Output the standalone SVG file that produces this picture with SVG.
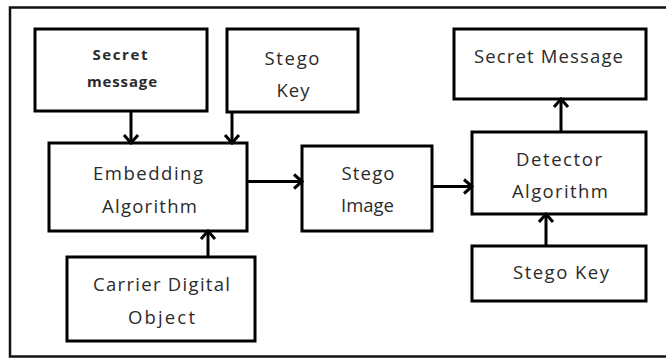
<svg xmlns="http://www.w3.org/2000/svg" width="666" height="358" viewBox="0 0 666 358">
  <defs>
    <style>
      .box { fill: #ffffff; stroke: #000000; stroke-width: 3; }
      .frame { fill: #ffffff; stroke: #111111; stroke-width: 2.5; }
      .lbl { font-family: "Open Sans", "Liberation Sans", Arial, sans-serif; font-size: 18.5px; fill: #2b2b2b; text-anchor: middle; }
      .bold { font-weight: bold; font-size: 15px; }
      .edge { stroke: #000000; stroke-width: 3; fill: none; marker-end: url(#chev); }
    </style>
    <marker id="chev" markerUnits="userSpaceOnUse" viewBox="0 0 12 18" markerWidth="12" markerHeight="18" refX="10" refY="9" orient="auto">
      <path d="M2,2 L10,9 L2,16" fill="none" stroke="#000000" stroke-width="3" stroke-linejoin="miter"/>
    </marker>
  </defs>

  <!-- outer frame, right side runs past the canvas -->
  <rect class="frame" x="10" y="7.5" width="680" height="349"/>

  <g id="secret-message-in">
    <rect class="box" x="35" y="29" width="172" height="82"/>
    <text class="lbl bold" x="120" y="60" textLength="55" lengthAdjust="spacing">Secret</text>
    <text class="lbl bold" x="122" y="87" textLength="70" lengthAdjust="spacing">message</text>
  </g>

  <g id="stego-key-in">
    <rect class="box" x="227" y="29" width="131" height="83"/>
    <text class="lbl" x="292" y="65" textLength="55" lengthAdjust="spacing">Stego</text>
    <text class="lbl" x="293" y="97" textLength="33" lengthAdjust="spacing">Key</text>
  </g>

  <g id="embedding">
    <rect class="box" x="49" y="143" width="198" height="88"/>
    <text class="lbl" x="148" y="180" textLength="110" lengthAdjust="spacing">Embedding</text>
    <text class="lbl" x="149.5" y="213" textLength="95" lengthAdjust="spacing">Algorithm</text>
  </g>

  <g id="carrier">
    <rect class="box" x="67" y="257" width="188" height="84"/>
    <text class="lbl" x="161.5" y="291" textLength="137" lengthAdjust="spacing">Carrier Digital</text>
    <text class="lbl" x="161.5" y="324" textLength="67" lengthAdjust="spacing">Object</text>
  </g>

  <g id="stego-image">
    <rect class="box" x="302" y="146" width="130" height="85"/>
    <text class="lbl" x="368" y="180" textLength="53" lengthAdjust="spacing">Stego</text>
    <text class="lbl" x="367.5" y="212" textLength="53" lengthAdjust="spacing">Image</text>
  </g>

  <g id="secret-message-out">
    <rect class="box" x="454" y="29" width="192" height="70"/>
    <text class="lbl" x="548.5" y="63" textLength="149" lengthAdjust="spacing">Secret Message</text>
  </g>

  <g id="detector">
    <rect class="box" x="472" y="132" width="174" height="82"/>
    <text class="lbl" x="559" y="166" textLength="86" lengthAdjust="spacing">Detector</text>
    <text class="lbl" x="560" y="198" textLength="96" lengthAdjust="spacing">Algorithm</text>
  </g>

  <g id="stego-key-out">
    <rect class="box" x="472" y="246" width="174" height="55"/>
    <text class="lbl" x="561" y="279" textLength="96" lengthAdjust="spacing">Stego Key</text>
  </g>

  <g id="connectors">
    <line class="edge" x1="131" y1="111" x2="131" y2="143"/>
    <line class="edge" x1="232" y1="112" x2="232" y2="143"/>
    <line class="edge" x1="208" y1="257" x2="208" y2="231"/>
    <line class="edge" x1="247" y1="181.5" x2="302" y2="181.5"/>
    <line class="edge" x1="432" y1="186.5" x2="472" y2="186.5"/>
    <line class="edge" x1="561" y1="132" x2="561" y2="99"/>
    <line class="edge" x1="546" y1="246" x2="546" y2="214"/>
  </g>
</svg>
